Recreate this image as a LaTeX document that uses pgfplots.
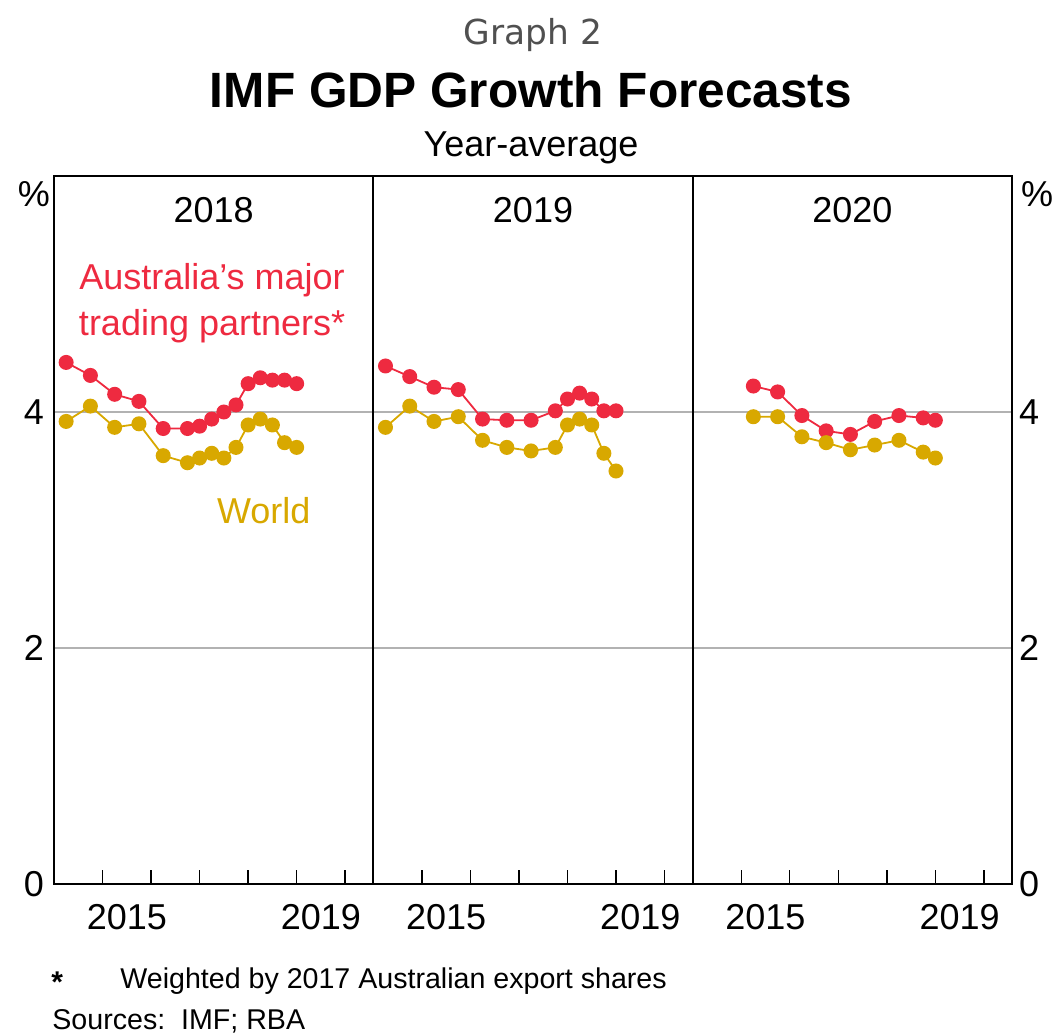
\documentclass[border=0pt]{standalone}
\usepackage{fontspec}
\setmainfont{Liberation Sans}
\newfontfamily\graphfont{DejaVu Sans}
\usepackage{pgfplots}
\usepackage{pgfplotstable}
\pgfplotsset{compat=1.18}

\definecolor{rbared}{RGB}{238,42,64}
\definecolor{rbagold}{RGB}{216,168,0}
\definecolor{gridgray}{RGB}{178,178,178}
\definecolor{titlegray}{RGB}{80,80,80}

% forecasts for 2018
\pgfplotstableread{
x y
2014.25 4.42
2014.75 4.31
2015.25 4.15
2015.75 4.09
2016.25 3.86
2016.75 3.86
2017.00 3.88
2017.25 3.94
2017.50 4.00
2017.75 4.06
2018.00 4.24
2018.25 4.29
2018.50 4.27
2018.75 4.27
2019.00 4.24
}\partnersA
\pgfplotstableread{
x y
2014.25 3.92
2014.75 4.05
2015.25 3.87
2015.75 3.90
2016.25 3.63
2016.75 3.57
2017.00 3.61
2017.25 3.65
2017.50 3.61
2017.75 3.70
2018.00 3.89
2018.25 3.94
2018.50 3.89
2018.75 3.74
2019.00 3.70
}\worldA

% forecasts for 2019
\pgfplotstableread{
x y
2014.25 4.39
2014.75 4.30
2015.25 4.21
2015.75 4.19
2016.25 3.94
2016.75 3.93
2017.25 3.93
2017.75 4.01
2018.00 4.11
2018.25 4.16
2018.50 4.11
2018.75 4.01
2019.00 4.01
}\partnersB
\pgfplotstableread{
x y
2014.25 3.87
2014.75 4.05
2015.25 3.92
2015.75 3.96
2016.25 3.76
2016.75 3.70
2017.25 3.67
2017.75 3.70
2018.00 3.89
2018.25 3.94
2018.50 3.89
2018.75 3.65
2019.00 3.50
}\worldB

% forecasts for 2020
\pgfplotstableread{
x y
2015.25 4.22
2015.75 4.17
2016.25 3.97
2016.75 3.84
2017.25 3.81
2017.75 3.92
2018.25 3.97
2018.75 3.95
2019.00 3.93
}\partnersC
\pgfplotstableread{
x y
2015.25 3.96
2015.75 3.96
2016.25 3.79
2016.75 3.74
2017.25 3.68
2017.75 3.72
2018.25 3.76
2018.75 3.66
2019.00 3.61
}\worldC

\pgfplotsset{
  panel/.style={
    scale only axis, width=159.67pt, height=354pt, anchor=south west,
    xmin=2014, xmax=2020.58, ymin=0, ymax=6,
    xtick={2015,...,2020}, xticklabels={}, xtick pos=bottom, xtick align=inside,
    major tick length=7pt,
    extra x ticks={2015.5,2019.5}, extra x tick labels={2015,2019},
    extra x tick style={major tick length=0pt, grid=none},
    xticklabel style={font=\fontsize{18}{18}\selectfont, yshift=-6.5pt},
    ytick={0,2,4}, ymajorgrids, grid style={gridgray, line width=0.7pt},
    yticklabel style={font=\fontsize{18}{18}\selectfont},
    ytick style={draw=none},
    /pgf/number format/assume math mode=true,
    axis line style={line width=1pt},
    xtick style={black, line width=0.7pt},
    clip=false,
  },
  partners/.style={rbared, line width=0.9pt, mark=*, mark size=3.3pt,
    mark options={solid, fill=rbared, draw=rbared}},
  world/.style={rbagold, line width=0.9pt, mark=*, mark size=3.3pt,
    mark options={solid, fill=rbagold, draw=rbagold}},
}
\tikzset{ptitle/.style={font=\fontsize{18}{18}\selectfont}}

\begin{document}
\begin{tikzpicture}
\useasboundingbox (0,0) rectangle (526pt,516.5pt);

\node[anchor=base, font=\graphfont\fontsize{17.2}{17.2}\selectfont, text=titlegray] at (266.5pt,494pt) {Graph 2};
\node[anchor=base, font=\bfseries\fontsize{24.8}{24.8}\selectfont] at (265.5pt,462.5pt) {IMF GDP Growth Forecasts};
\node[anchor=base, font=\fontsize{18}{18}\selectfont] at (265.5pt,438pt) {Year-average};

\begin{axis}[panel, at={(27pt,74.5pt)}, ytick pos=left, yticklabel style={xshift=-1.5pt}]
  \addplot[partners] table[x=x,y=y] {\partnersA};
  \addplot[world] table[x=x,y=y] {\worldA};
  \node[ptitle] at (rel axis cs:0.5,0.952) {2018};
  \node[ptitle, text=rbared, align=center] at (rel axis cs:0.495,0.821) {Australia's major\\[5pt] trading partners*};
  \node[ptitle, text=rbagold] at (rel axis cs:0.657,0.527) {World};
\end{axis}

\begin{axis}[panel, at={(186.67pt,74.5pt)}, yticklabels={}]
  \addplot[partners] table[x=x,y=y] {\partnersB};
  \addplot[world] table[x=x,y=y] {\worldB};
  \node[ptitle] at (rel axis cs:0.5,0.952) {2019};
\end{axis}

\begin{axis}[panel, at={(346.34pt,74.5pt)}, ytick pos=right, yticklabel pos=right]
  \addplot[partners] table[x=x,y=y] {\partnersC};
  \addplot[world] table[x=x,y=y] {\worldC};
  \node[ptitle] at (rel axis cs:0.5,0.952) {2020};
\end{axis}

\node[anchor=base, font=\fontsize{18}{18}\selectfont] at (17pt,413pt) {\%};
\node[anchor=base, font=\fontsize{18}{18}\selectfont] at (518.5pt,413pt) {\%};

\node[anchor=base west, inner sep=0pt, font=\bfseries\fontsize{15}{15}\selectfont] at (25.5pt,20.5pt) {*};
\node[anchor=base west, inner sep=0pt, font=\fontsize{14.3}{14.3}\selectfont] at (60pt,22.5pt) {Weighted by 2017 Australian export shares};
\node[anchor=base west, inner sep=0pt, font=\fontsize{14.3}{14.3}\selectfont] at (26pt,1.8pt) {Sources:\ \ IMF; RBA};
\end{tikzpicture}
\end{document}
